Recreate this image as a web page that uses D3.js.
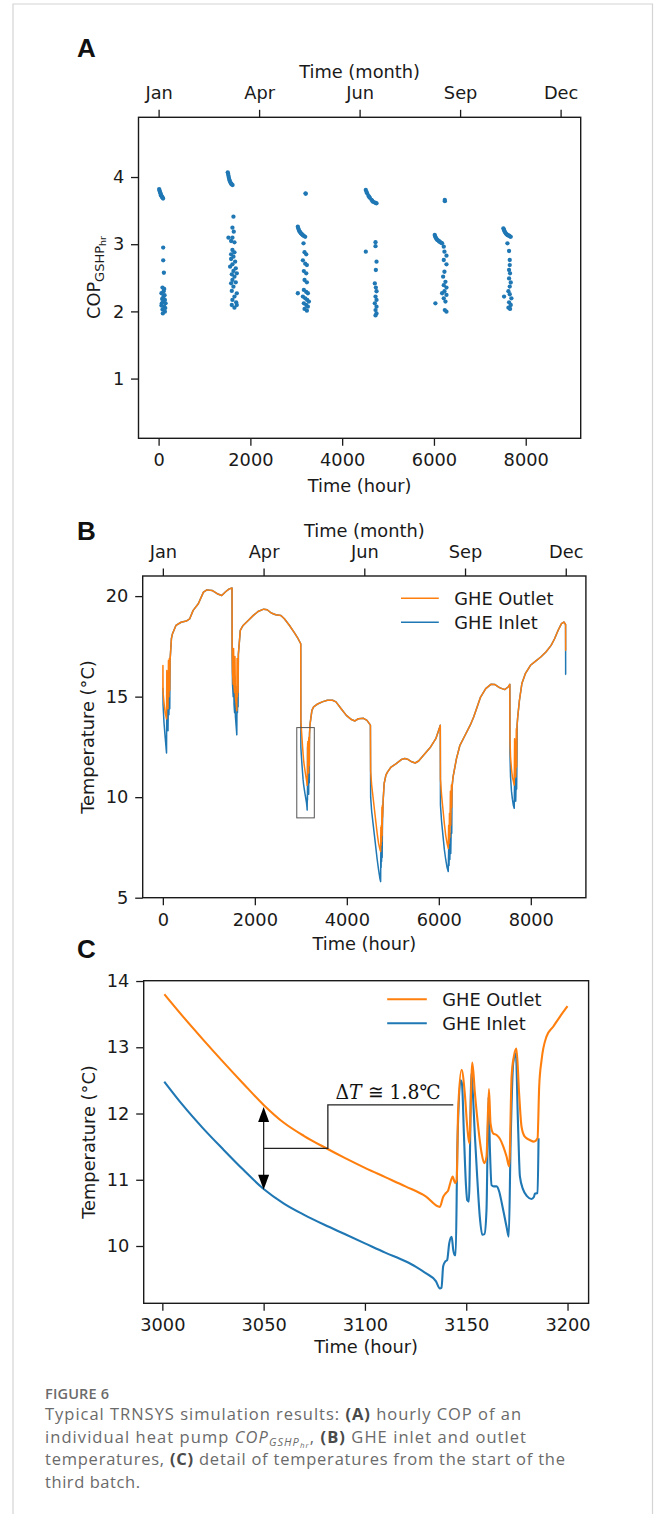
<!DOCTYPE html>
<html><head><meta charset="utf-8">
<script src="https://cdn.jsdelivr.net/npm/d3@7"></script>
<style>body{margin:0;background:#fff}svg{display:block}</style>
</head><body>
<svg id="fig" width="656" height="1514"></svg>
<script>
// ---------------- DATA ----------------
const monthTicks = [0, 2190, 4380, 6570, 8760];
const monthLabels = ["Jan", "Apr", "Jun", "Sep", "Dec"];
const hourTicksAB = [0, 2000, 4000, 6000, 8000];
const copTicks = [1, 2, 3, 4];
const tempTicksB = [5, 10, 15, 20];
const hourTicksC = [3000, 3050, 3100, 3150, 3200];
const tempTicksC = [10, 11, 12, 13, 14];
const seriesNames = ["GHE Outlet", "GHE Inlet"];
const annotationText = "1.8";

// Panel A: hourly COP points [hour, COP]
const copPoints = [
  // batch 1
  [12,3.82],[20,3.80],[28,3.78],[36,3.765],[44,3.75],[52,3.73],[60,3.72],[68,3.71],[78,3.70],[88,3.69],[98,3.68],
  [100,2.95],[100,2.76],[115,2.575],[85,2.355],[122,2.335],[62,2.27],[107,2.22],[77,2.185],[137,2.17],[100,2.146],
  [152,2.12],[62,2.086],[122,2.07],[85,2.03],[137,1.996],[92,1.97],[110,2.30],[130,2.24],[70,2.12],[145,2.05],
  // batch 2
  [1507,4.07],[1514,4.05],[1522,4.02],[1531,3.99],[1541,3.96],[1552,3.94],[1565,3.92],[1580,3.90],[1596,3.89],[1612,3.88],
  [1631,3.41],[1609,3.246],[1638,3.187],[1522,3.097],[1609,3.097],[1580,3.048],[1653,3.028],[1609,2.914],[1580,2.849],
  [1653,2.879],[1631,2.815],[1580,2.78],[1668,2.74],[1609,2.70],[1558,2.666],[1682,2.641],[1631,2.601],[1595,2.552],
  [1704,2.567],[1653,2.517],[1609,2.467],[1580,2.418],[1682,2.432],[1631,2.368],[1595,2.304],[1704,2.269],[1653,2.22],
  [1609,2.17],[1690,2.135],[1595,2.095],[1704,2.095],[1653,2.056],
  // batch 3
  [3034,3.26],[3045,3.235],[3056,3.21],[3070,3.19],[3085,3.178],[3103,3.16],[3122,3.148],[3143,3.135],[3165,3.123],[3195,3.11],
  [3202,3.757],[3206,3.75],
  [3158,3.013],[3180,2.88],[3217,2.85],[3144,2.76],[3195,2.71],[3231,2.69],[3165,2.60],[3217,2.567],[3180,2.467],
  [3231,2.432],[3034,2.27],[3165,2.32],[3217,2.29],[3253,2.27],[3144,2.22],[3195,2.195],[3238,2.17],[3275,2.146],
  [3165,2.12],[3217,2.095],[3253,2.07],[3180,2.037],[3231,2.01],
  // batch 4
  [4515,3.807],[4530,3.78],[4544,3.757],[4573,3.72],[4588,3.705],[4603,3.69],[4639,3.66],[4657,3.645],[4676,3.63],
  [4719,3.618],[4735,3.612],[4749,3.608],
  [4515,2.889],[4727,3.03],[4727,2.97],[4749,2.74],[4734,2.616],[4712,2.417],[4734,2.354],[4749,2.30],[4727,2.22],
  [4749,2.17],[4712,2.12],[4749,2.07],[4727,2.02],[4749,1.97],[4727,1.94],
  // batch 5
  [6017,3.137],[6028,3.115],[6039,3.097],[6053,3.08],[6068,3.068],[6086,3.058],[6105,3.048],[6122,3.038],[6141,3.028],
  [6160,3.02],[6178,3.013],
  [6236,3.658],[6238,3.64],
  [6214,2.963],[6229,2.889],[6273,2.83],[6214,2.765],[6273,2.70],[6229,2.59],[6200,2.517],[6251,2.44],[6214,2.39],
  [6273,2.354],[6229,2.30],[6178,2.27],[6273,2.245],[6214,2.195],[6032,2.12],[6251,2.146],[6236,2.02],[6273,1.996],
  // batch 6
  [7513,3.236],[7524,3.215],[7535,3.197],[7549,3.18],[7564,3.162],[7582,3.148],[7601,3.137],[7619,3.13],[7637,3.127],
  [7655,3.118],[7674,3.11],
  [7601,3.013],[7637,2.899],[7652,2.765],[7652,2.69],[7637,2.616],[7659,2.567],[7637,2.49],[7674,2.43],[7652,2.37],
  [7623,2.30],[7528,2.22],[7652,2.255],[7688,2.195],[7637,2.135],[7674,2.095],[7623,2.056],[7659,2.037]
];

// Panel B: yearly GHE temperatures [hour, outlet, inlet] (inlet omitted = same as outlet)
const bData = [
  [0,15.3,15.3],[2,16.55,15.4],[5,15.2,14.6],[25,14.7,13.7],[50,14.2,13.0],[80,13.9,12.2],[86,16.3,14.9],
  [95,14.5,13.4],[103,16.0,14.6],[112,14.4,13.3],[122,16.8,15.1],[132,15.0,14.1],[142,16.9,15.2],[150,15.3,14.4],
  [157,16.8,16.8],
  [187,17.9],[210,18.13],[284,18.54],[397,18.70],[509,18.76],[584,18.87],[659,19.29],[771,19.62],[883,20.20],
  [958,20.31],[1070,20.28],[1182,20.12],[1280,20.03],[1370,20.23],[1444,20.36],[1504,20.40],
  [1507,17.5,17.0],[1515,16.2,15.6],[1530,15.6,15.0],[1538,17.4,16.9],[1548,15.5,14.6],[1560,15.2,14.2],
  [1568,17.0,16.0],[1578,15.0,14.0],[1595,14.6,13.5],[1608,14.3,13.1],[1614,16.9,15.5],[1622,15.0,14.2],
  [1630,16.5,15.0],[1636,15.2,14.5],[1642,17.1,17.1],
  [1684,18.3],[1744,18.54],[1856,18.79],[1968,19.04],[2081,19.25],[2193,19.35],[2268,19.32],[2357,19.16],
  [2455,19.07],[2567,19.04],[2642,18.87],[2754,18.54],[2866,18.16],[2941,17.88],[2998,17.63],
  [3241,14.32],[3278,14.49],[3353,14.62],[3465,14.74],[3577,14.82],[3690,14.82],[3764,14.74],[3877,14.40],
  [3989,14.07],[4101,13.86],[4176,13.79],[4251,13.90],[4363,13.92],[4438,13.82],[4513,13.58],
  [4518,11.3,10.0],[4540,10.6,9.3],[4570,10.0,8.7],[4600,9.4,8.1],[4630,8.8,7.5],[4660,8.2,6.9],[4690,7.7,6.4],
  [4720,7.4,5.95],[4735,7.3,5.8],[4740,8.5,7.5],[4745,7.6,6.5],[4751,8.6,7.6],[4756,7.8,6.8],[4763,9.5,8.2],
  [4768,8.1,7.0],[4773,9.6,8.3],[4778,9.0,9.0],
  [4790,9.85],[4812,10.68],[4850,11.1],[4887,11.26],[4962,11.5],[5074,11.67],[5186,11.87],[5261,11.92],
  [5336,11.87],[5411,11.76],[5486,11.70],[5561,11.8],[5635,12.0],[5710,12.2],[5822,12.5],[5935,12.91],
  [6010,13.41],[6032,13.58],
  [6036,10.9,9.6],[6060,10.1,8.8],[6090,9.4,8.1],[6120,8.7,7.4],[6150,8.1,6.9],[6180,7.7,6.5],[6205,7.45,6.3],
  [6214,8.6,7.4],[6222,7.7,6.6],[6232,9.2,7.9],[6240,8.0,6.9],[6252,10.3,8.2],[6260,8.6,7.2],[6274,10.6,9.0],
  [6281,9.5,8.2],[6288,10.5,10.5],
  [6309,11.0],[6384,11.92],[6459,12.58],[6571,13.08],[6683,13.58],[6758,13.99],[6833,14.49],[6908,14.98],
  [7020,15.40],[7132,15.61],[7222,15.60],[7319,15.45],[7431,15.35],[7507,15.48],[7544,15.61],
  [7547,12.9,12.2],[7560,12.0,11.0],[7580,11.4,10.3],[7600,11.0,9.9],[7620,10.8,9.6],[7640,10.6,9.45],
  [7648,12.9,11.2],[7655,11.0,9.9],[7665,12.2,10.6],[7672,11.0,9.8],[7685,13.4,11.1],[7692,11.5,10.4],
  [7699,13.5,11.9],[7703,13.6,13.6],
  [7716,14.0],[7753,14.82],[7806,15.65],[7881,16.14],[7993,16.56],[8105,16.77],[8217,16.97],[8329,17.22],
  [8442,17.55],[8517,17.88],[8592,18.29],[8667,18.63],[8719,18.71],[8756,18.59],[8758,17.3,16.1],[8760,17.3,16.1]
];
const zoomBox = [2912, 3293, 8.97, 13.46]; // hours from, to, temp from, to

// Panel C: third batch detail [hour, temperature]
const cOutlet = [
  [3001,13.80],[3010,13.47],[3020,13.12],[3030,12.78],[3040,12.45],[3050,12.13],[3060,11.86],[3070,11.66],
  [3080,11.49],[3090,11.33],[3100,11.18],[3110,11.04],[3120,10.90],[3130,10.75],
  [3137.0,10.59],[3138.6,10.74],[3140.0,10.80],[3141.1,10.84],[3142.3,10.97],[3143.3,11.05],[3144.5,10.95],
  [3145.3,11.0],[3146.0,12.05],[3147.7,12.66],[3149.3,12.30],[3150.5,11.80],[3151.5,11.55],[3153.0,12.77],
  [3154.3,12.30],[3155.9,11.80],[3157.6,11.40],[3158.9,11.25],[3160.0,11.35],[3161.2,12.37],[3162.0,11.85],
  [3163.3,11.70],[3165.0,11.675],[3166.6,11.62],[3168.3,11.50],[3169.9,11.35],[3171.2,11.20],[3172.4,12.56],
  [3173.5,12.86],[3174.8,12.98],[3176.1,12.30],[3177.3,11.80],[3178.9,11.65],[3181.4,11.60],[3183.4,11.575],
  [3185.2,11.625],[3186.0,12.40],[3187.2,12.81],[3189.6,13.16],[3192.9,13.31],[3196.2,13.46],[3200,13.62]
];
const cInlet = [
  [3001,12.48],[3010,12.13],[3020,11.78],[3030,11.46],[3040,11.15],[3050,10.86],[3060,10.64],[3070,10.47],
  [3080,10.32],[3090,10.18],[3100,10.04],[3110,9.90],[3120,9.77],[3125,9.69],[3130,9.59],[3135,9.47],
  [3137.0,9.36],[3137.8,9.37],[3138.6,9.69],[3139.5,9.76],[3140.6,9.79],[3141.6,10.04],[3142.8,10.14],
  [3143.6,9.94],[3144.4,9.86],[3144.8,9.86],[3145.6,11.45],[3147.2,12.50],[3147.9,12.45],[3148.9,11.65],
  [3149.9,10.90],[3150.5,10.69],[3151.3,10.67],[3152.6,12.61],[3153.1,12.40],[3154.3,11.65],[3155.4,11.05],
  [3156.7,10.44],[3157.9,10.17],[3159.0,10.18],[3160.0,10.54],[3161.0,12.25],[3161.7,11.45],[3162.5,10.92],
  [3163.6,10.90],[3165.0,10.90],[3166.3,10.82],[3167.4,10.67],[3168.6,10.49],[3169.9,10.29],[3171.0,10.14],
  [3171.9,11.55],[3173.2,12.76],[3174.5,12.91],[3175.5,11.90],[3176.5,11.05],[3178.1,10.85],[3180.1,10.75],
  [3182.2,10.71],[3183.4,10.74],[3183.9,10.79],[3185.2,10.80],[3185.7,11.625]
];
// annotation: arrow at hour, from temp to temp; bracket corner hour, mid temp, top temp, end hour
const dTArrow = [3050, 12.10, 10.85];
const dTBracket = [3081.7, 11.475, 12.13, 3143.6];

// ---------------- DRAWING ----------------
const svg = d3.select("#fig");
const FONT = "'DejaVu Sans', sans-serif";
const FS = 17.8;
const ORANGE = "#ff7f0e", BLUE = "#1f77b4", INK = "#1a1a1a";
const TICK = 7.5;

// page frame
svg.append("path").attr("d", "M13,1514V4H652.5V1514").attr("fill", "none")
  .attr("stroke", "#d4d4d4").attr("stroke-width", 1.2);

function styleAxis(g) {
  g.select(".domain").remove();
  g.selectAll("line").attr("stroke", INK).attr("stroke-width", 1.3);
  g.selectAll("text").attr("font-family", FONT).attr("font-size", FS).attr("fill", INK);
}
function panel(x, y, opts) {
  const [x0, x1] = x.range(), [y1, y0] = y.range();
  const g = svg.append("g");
  g.append("g").attr("transform", `translate(0,${y1})`)
    .call(d3.axisBottom(x).tickValues(opts.xTicks).tickSize(TICK).tickPadding(8).tickSizeOuter(0)
      .tickFormat(d3.format("d"))).call(styleAxis);
  g.append("g").attr("transform", `translate(${x0},0)`)
    .call(d3.axisLeft(y).tickValues(opts.yTicks).tickSize(TICK).tickPadding(6.8).tickSizeOuter(0)
      .tickFormat(d3.format("d"))).call(styleAxis);
  if (opts.months) {
    g.append("g").attr("transform", `translate(0,${y0})`)
      .call(d3.axisTop(x).tickValues(monthTicks).tickSize(TICK).tickPadding(10.5).tickSizeOuter(0)
        .tickFormat((d, i) => monthLabels[i])).call(styleAxis);
    g.append("text").attr("x", (x0 + x1) / 2).attr("y", y0 - 39).attr("text-anchor", "middle")
      .attr("font-family", FONT).attr("font-size", FS).attr("fill", INK).text("Time (month)");
  }
  g.append("text").attr("x", (x0 + x1) / 2).attr("y", y1 + opts.xLabelOff).attr("text-anchor", "middle")
    .attr("font-family", FONT).attr("font-size", FS).attr("fill", INK).text("Time (hour)");
  g.append("rect").attr("x", x0).attr("y", y0).attr("width", x1 - x0).attr("height", y1 - y0)
    .attr("fill", "none").attr("stroke", INK).attr("stroke-width", 1.4);
  g.append("text").attr("x", 77).attr("y", opts.labelY).attr("font-family", "'Liberation Sans', Arial, sans-serif")
    .attr("font-weight", 700).attr("font-size", 26).attr("fill", "#111").text(opts.label);
  return g;
}
function yTitle(g, cx, cy, build) {
  const t = g.append("text").attr("transform", `translate(${cx},${cy}) rotate(-90)`)
    .attr("text-anchor", "middle").attr("font-family", FONT).attr("font-size", FS).attr("fill", INK);
  build(t);
}
function legend(g, lx0, lx1, ly, tx, sw) {
  [ORANGE, BLUE].forEach((c, i) => {
    g.append("line").attr("x1", lx0).attr("x2", lx1).attr("y1", ly + i * 24).attr("y2", ly + i * 24)
      .attr("stroke", c).attr("stroke-width", sw);
    g.append("text").attr("x", tx).attr("y", ly + i * 24).attr("dy", "0.35em")
      .attr("font-family", FONT).attr("font-size", FS).attr("fill", INK).text(seriesNames[i]);
  });
}

// ---- Panel A ----
const xA = d3.scaleLinear().domain([-438, 9198]).range([138.5, 580.7]);
const yA = d3.scaleLinear().domain([0.111, 4.889]).range([438.3, 117.3]);
const gA = panel(xA, yA, {xTicks: hourTicksAB, yTicks: copTicks, months: true, xLabelOff: 53.4, label: "A", labelY: 57});
gA.append("g").selectAll("circle").data(copPoints).join("circle")
  .attr("cx", d => xA(d[0])).attr("cy", d => yA(d[1])).attr("r", 2.15).attr("fill", BLUE);
yTitle(gA, 99.5, 277.5, t => {
  t.append("tspan").text("COP");
  t.append("tspan").attr("font-size", 13).attr("dy", 4).text("GSHP");
  t.append("tspan").attr("font-size", 9.5).attr("dy", 2.5).text("hr");
});

// ---- Panel B ----
const xB = d3.scaleLinear().domain([-438, 9198]).range([142.7, 585.9]);
const yB = d3.scaleLinear().domain([5, 21]).range([897.7, 576]);
const gB = panel(xB, yB, {xTicks: hourTicksAB, yTicks: tempTicksB, months: true, xLabelOff: 52.3, label: "B", labelY: 540});
const byHour = (a, b) => a[0] - b[0];
const lastInletHour = cInlet[cInlet.length - 1][0];
const bOut = bData.map(d => [d[0], d[1]]).concat(cOutlet).sort(byHour);
const bIn = bData.map(d => [d[0], d.length > 2 ? d[2] : d[1]])
  .concat(cInlet, cOutlet.filter(d => d[0] > lastInletHour)).sort(byHour);
const lineB = d3.line().x(d => xB(d[0])).y(d => yB(d[1]));
gB.append("path").attr("d", lineB(bIn)).attr("fill", "none").attr("stroke", BLUE).attr("stroke-width", 1.5).attr("stroke-linejoin", "round");
gB.append("path").attr("d", lineB(bOut)).attr("fill", "none").attr("stroke", ORANGE).attr("stroke-width", 1.5).attr("stroke-linejoin", "round");
gB.append("rect").attr("x", xB(zoomBox[0])).attr("y", yB(zoomBox[3]))
  .attr("width", xB(zoomBox[1]) - xB(zoomBox[0])).attr("height", yB(zoomBox[2]) - yB(zoomBox[3]))
  .attr("fill", "none").attr("stroke", "#555").attr("stroke-width", 1);
legend(gB, 401, 438.8, 598.3, 454.3, 1.6);
yTitle(gB, 93.5, 737, t => t.text("Temperature (°C)"));

// ---- Panel C ----
const xC = d3.scaleLinear().domain([2990.8, 3210.4]).range([143.7, 588.6]);
const yC = d3.scaleLinear().domain([9.135, 14.005]).range([1303.3, 980.7]);
const gC = panel(xC, yC, {xTicks: hourTicksC, yTicks: tempTicksC, months: false, xLabelOff: 50, label: "C", labelY: 958});
const lineC = d3.line().curve(d3.curveMonotoneX).x(d => xC(d[0])).y(d => yC(d[1]));
gC.append("path").attr("d", lineC(cInlet)).attr("fill", "none").attr("stroke", BLUE).attr("stroke-width", 2.1).attr("stroke-linejoin", "round");
gC.append("path").attr("d", lineC(cOutlet)).attr("fill", "none").attr("stroke", ORANGE).attr("stroke-width", 2.1).attr("stroke-linejoin", "round");
legend(gC, 387.2, 426.8, 999.3, 442.3, 2);
yTitle(gC, 94.5, 1142, t => t.text("Temperature (°C)"));

// annotation
const ax = xC(dTArrow[0]), aTop = yC(dTArrow[1]), aBot = yC(dTArrow[2]);
const HW = 5.5, HL = 15;
const ann = gC.append("g").attr("stroke", "#222").attr("stroke-width", 1.3).attr("fill", "none");
ann.append("line").attr("x1", ax).attr("x2", ax).attr("y1", aTop + HL - 1).attr("y2", aBot - HL + 1);
gC.append("path").attr("d", `M${ax},${aTop}L${ax - HW},${aTop + HL}L${ax + HW},${aTop + HL}Z`).attr("fill", "#000");
gC.append("path").attr("d", `M${ax},${aBot}L${ax - HW},${aBot - HL}L${ax + HW},${aBot - HL}Z`).attr("fill", "#000");
ann.append("path").attr("d",
  `M${ax},${yC(dTBracket[1])}H${xC(dTBracket[0])}V${yC(dTBracket[2])}H${xC(dTBracket[3])}`);
const tAnn = gC.append("text").attr("x", 335.5).attr("y", yC(dTBracket[2]) - 6)
  .attr("font-family", "'DejaVu Serif', serif").attr("font-size", 20).attr("fill", "#111")
  .attr("textLength", 105).attr("lengthAdjust", "spacingAndGlyphs");
tAnn.append("tspan").text("Δ");
tAnn.append("tspan").attr("font-style", "italic").text("T");
tAnn.append("tspan").text(" ≅ " + annotationText + "℃");

// ---- Caption ----
const CAP = "'Open Sans', 'Noto Sans', sans-serif";
svg.append("text").attr("x", 45).attr("y", 1399).attr("font-family", CAP).attr("font-size", 14.5)
  .attr("font-weight", 600).attr("fill", "#6b6b6b").attr("textLength", 64).text("FIGURE 6");
const capLines = [
  {y: 1420, len: 476, parts: [["Typical TRNSYS simulation results: "], ["(A)", "b"], [" hourly COP of an"]]},
  {y: 1442.7, len: 481, parts: [["individual heat pump "], ["COP", "i"], ["GSHP", "s1"], ["hr", "s2"], [",", "r"], [" "], ["(B)", "b"], [" GHE inlet and outlet"]]},
  {y: 1465, len: 520, parts: [["temperatures, "], ["(C)", "b"], [" detail of temperatures from the start of the"]]},
  {y: 1488.3, len: 95, parts: [["third batch."]]}
];
capLines.forEach(L => {
  const t = svg.append("text").attr("x", 45).attr("y", L.y).attr("font-family", CAP).attr("font-size", 16.5)
    .attr("fill", "#6a6a6a").attr("textLength", L.len).attr("lengthAdjust", "spacing");
  L.parts.forEach(([s, k]) => {
    const ts = t.append("tspan").text(s);
    if (k === "b") ts.attr("font-weight", 700).attr("fill", "#4a4a4a");
    if (k === "i") ts.attr("font-style", "italic");
    if (k === "s1") ts.attr("font-style", "italic").attr("font-size", 11).attr("dy", 3);
    if (k === "s2") ts.attr("font-style", "italic").attr("font-size", 8).attr("dy", 2);
    if (k === "r") ts.attr("dy", -5);
  });
});
</script>
</body></html>
